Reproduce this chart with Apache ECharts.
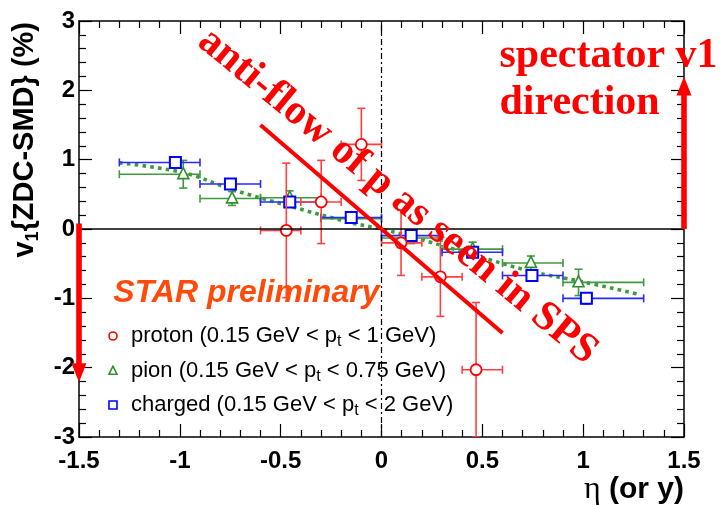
<!DOCTYPE html>
<html>
<head>
<meta charset="utf-8">
<script src="https://cdn.jsdelivr.net/npm/echarts@6/dist/echarts.min.js"></script>
<style>
  html, body { margin: 0; padding: 0; background: #fff; }
  #chart { width: 722px; height: 506px; }
</style>
</head>
<body>
<div id="chart"></div>
<script>
// Directed flow v1{ZDC-SMD} versus pseudorapidity / rapidity

// axis ranges and tick spacing
const xRange = [-1.5, 1.5];
const yRange = [-3, 3];
const xStep = 0.5;
const yStep = 1;

// proton (0.15 GeV < pt < 1 GeV)
const protonEta = [-0.472, -0.299, -0.10, 0.097, 0.292, 0.469];
const protonV1  = [-0.02, 0.39, 1.22, -0.20, -0.69, -2.03];
const protonLo  = [-0.60, -0.40, -0.20, 0.00, 0.20, 0.40];
const protonHi  = [-0.40, -0.20, 0.00, 0.20, 0.40, 0.60];
const protonErr = [0.97, 0.60, 0.52, 0.47, 0.57, 0.97];

// pion (0.15 GeV < pt < 0.75 GeV)
const pionEta = [-0.983, -0.741, -0.455, -0.15, 0.147, 0.452, 0.741, 0.977];
const pionV1  = [0.79, 0.44, 0.45, 0.15, -0.13, -0.29, -0.49, -0.77];
const pionLo  = [-1.30, -0.90, -0.60, -0.30, 0.00, 0.30, 0.60, 0.90];
const pionHi  = [-0.90, -0.60, -0.30, 0.00, 0.30, 0.60, 0.90, 1.30];
const pionErr = [0.20, 0.10, 0.10, 0.06, 0.08, 0.10, 0.10, 0.19];

// charged hadrons (0.15 GeV < pt < 2 GeV)
const chargedEta = [-1.022, -0.749, -0.455, -0.15, 0.147, 0.452, 0.746, 1.016];
const chargedV1  = [0.96, 0.65, 0.39, 0.165, -0.095, -0.335, -0.67, -1.00];
const chargedLo  = [-1.30, -0.90, -0.60, -0.30, 0.00, 0.30, 0.60, 0.90];
const chargedHi  = [-0.90, -0.60, -0.30, 0.00, 0.30, 0.60, 0.90, 1.30];
const chargedErr = [0.08, 0.06, 0.06, 0.06, 0.06, 0.06, 0.08, 0.08];

// smooth fit through the pion / charged points
const fitEta = [-1.30, -0.98, -0.74, -0.455, -0.15, 0.00, 0.147, 0.452, 0.741, 0.98, 1.28];
const fitV1  = [0.955, 0.81, 0.57, 0.33, 0.09, 0.00, -0.11, -0.37, -0.61, -0.75, -0.945];

// "anti-flow" guide line
const antiFlowEta = [-0.60, 0.60];
const antiFlowV1  = [1.50, -1.50];

// spectator direction arrows: [eta, from v1, to v1]
const arrowUp   = [1.5, 0.0, 2.2];
const arrowDown = [-1.5, 0.08, -2.21];

// legend entries
const legendNames = ['proton', 'pion', 'charged'];
const legendRanges = ['1', '0.75', '2'];

const FONT = '"Liberation Sans", Arial, sans-serif';
const SERIF = '"Liberation Serif", "Times New Roman", serif';
const RED = '#ff0000';
const GREEN = '#2f8f2f';
const BLUE = '#0000ff';

const zip = (...cols) => cols[0].map((_, i) => cols.map(c => c[i]));

function markerShape(kind, cx, cy, s, color, lw) {
  const style = { fill: '#fff', stroke: color, lineWidth: lw };
  if (kind === 'circle') {
    return { type: 'circle', shape: { cx, cy, r: s / 2 }, style };
  }
  if (kind === 'triangle') {
    return { type: 'polygon', shape: { points: [[cx, cy - s * 0.6], [cx - s / 2, cy + s * 0.4], [cx + s / 2, cy + s * 0.4]] }, style };
  }
  return { type: 'rect', shape: { x: cx - s / 2, y: cy - s / 2, width: s, height: s }, style };
}

function errorBarRenderer(kind, color, barColor, size, lw) {
  return function (params, api) {
    const x = api.value(0), y = api.value(1), lo = api.value(2), hi = api.value(3), e = api.value(4);
    const c = api.coord([x, y]);
    const pl = api.coord([lo, y]);
    const ph = api.coord([hi, y]);
    const pt = api.coord([x, y + e]);
    const pb = api.coord([x, y - e]);
    const cap = 4;
    const ls = { stroke: barColor, lineWidth: 1.6 };
    const line = (x1, y1, x2, y2) => ({ type: 'line', shape: { x1, y1, x2, y2 }, style: ls });
    return {
      type: 'group',
      children: [
        line(pl[0], c[1], ph[0], c[1]),
        line(pl[0], c[1] - cap, pl[0], c[1] + cap),
        line(ph[0], c[1] - cap, ph[0], c[1] + cap),
        line(c[0], pt[1], c[0], pb[1]),
        line(c[0] - cap, pt[1], c[0] + cap, pt[1]),
        line(c[0] - cap, pb[1], c[0] + cap, pb[1]),
        markerShape(kind, c[0], c[1], size, color, lw)
      ]
    };
  };
}

const axisCommon = {
  type: 'value',
  axisLine: { show: true, onZero: false, lineStyle: { color: '#000', width: 1.5 } },
  axisTick: { show: true, inside: true, length: 13, lineStyle: { color: '#000', width: 1.2 } },
  minorTick: { show: true, splitNumber: 5, length: 7, lineStyle: { color: '#000', width: 1.2 } },
  splitLine: { show: false },
  minorSplitLine: { show: false }
};
const labelStyle = { color: '#000', fontFamily: FONT, fontWeight: 'bold', fontSize: 24 };

const chart = echarts.init(document.getElementById('chart'), null, { renderer: 'canvas' });

chart.setOption({
  backgroundColor: '#fff',
  animation: false,
  grid: { left: 79, right: 38, top: 21, bottom: 69 },
  xAxis: [
    Object.assign({}, axisCommon, {
      position: 'bottom', min: xRange[0], max: xRange[1], interval: xStep,
      axisLabel: Object.assign({ margin: 12 }, labelStyle)
    }),
    Object.assign({}, axisCommon, {
      position: 'top', min: xRange[0], max: xRange[1], interval: xStep,
      axisLabel: { show: false }
    })
  ],
  yAxis: [
    Object.assign({}, axisCommon, {
      position: 'left', min: yRange[0], max: yRange[1], interval: yStep,
      axisLabel: Object.assign({ margin: 4 }, labelStyle)
    }),
    Object.assign({}, axisCommon, {
      position: 'right', min: yRange[0], max: yRange[1], interval: yStep,
      axisLabel: { show: false }
    })
  ],
  series: [
    {
      name: 'fit',
      type: 'line',
      data: zip(fitEta, fitV1),
      smooth: 0.4,
      symbol: 'none',
      z: 2,
      lineStyle: { color: '#3c9b3c', width: 3.6, type: [3.6, 4.2], cap: 'butt' },
      markLine: {
        silent: true,
        symbol: 'none',
        label: { show: false },
        data: [
          { yAxis: 0, lineStyle: { color: '#000', width: 1.5, type: 'solid' } },
          { xAxis: 0, lineStyle: { color: '#000', width: 1.2, type: [6, 3, 2, 3] } }
        ]
      }
    },
    {
      name: 'pion',
      type: 'custom',
      clip: true,
      z: 3,
      renderItem: errorBarRenderer('triangle', GREEN, '#3f9a3f', 11, 1.6),
      data: zip(pionEta, pionV1, pionLo, pionHi, pionErr)
    },
    {
      name: 'charged',
      type: 'custom',
      clip: true,
      z: 4,
      renderItem: errorBarRenderer('square', BLUE, '#2a2aff', 11, 2),
      data: zip(chargedEta, chargedV1, chargedLo, chargedHi, chargedErr)
    },
    {
      name: 'proton',
      type: 'custom',
      clip: true,
      z: 4,
      renderItem: errorBarRenderer('circle', RED, '#ff4040', 11, 1.8),
      data: zip(protonEta, protonV1, protonLo, protonHi, protonErr)
    },
    {
      name: 'anti-flow',
      type: 'line',
      data: zip(antiFlowEta, antiFlowV1),
      symbol: 'none',
      z: 6,
      lineStyle: { color: RED, width: 4 }
    }
  ]
});

// annotations placed in data coordinates
const px = (x, y) => chart.convertToPixel({ gridIndex: 0 }, [x, y]);

function arrow(spec) {
  const [eta, from, to] = spec;
  const a = px(eta, from), b = px(eta, to);
  const dir = Math.sign(b[1] - a[1]);
  const headLen = 19, headHalf = 7.5, shaftHalf = 2.8;
  const base = b[1] - dir * headLen;
  return {
    type: 'polygon',
    z: 100,
    shape: {
      points: [
        [a[0] - shaftHalf, a[1]], [a[0] + shaftHalf, a[1]],
        [a[0] + shaftHalf, base], [a[0] + headHalf, base],
        [b[0], b[1]],
        [a[0] - headHalf, base], [a[0] - shaftHalf, base]
      ]
    },
    style: { fill: RED }
  };
}

const pText = px(0.08, 0.47);
const pSpect = px(0.585, 2.49);
const pDir = px(0.585, 1.81);
const pStar = px(-1.33, -0.92);

const legendY = [336, 371, 405];
const legendKinds = ['circle', 'triangle', 'square'];
const legendColors = [RED, GREEN, BLUE];

const legendItems = [];
legendNames.forEach((name, i) => {
  legendItems.push(Object.assign({ z: 100 }, markerShape(legendKinds[i], 113, legendY[i], 8, legendColors[i], 1.6)));
  legendItems.push({
    type: 'text', z: 100, x: 131, y: legendY[i],
    style: {
      text: name + ' (0.15 GeV < p{sub|t} < ' + legendRanges[i] + ' GeV)',
      fontFamily: FONT, fontSize: 22, fill: '#000',
      verticalAlign: 'middle', align: 'left',
      rich: { sub: { fontFamily: FONT, fontSize: 16, fill: '#000', padding: [12, 0, 0, 0] } }
    }
  });
});

chart.setOption({
  graphic: [
    arrow(arrowUp),
    arrow(arrowDown),
    {
      type: 'text', z: 110, x: pText[0], y: pText[1], rotation: -39.5 * Math.PI / 180,
      style: {
        text: 'anti-flow of p as seen in SPS',
        fontFamily: SERIF, fontWeight: 'bold', fontSize: 42, fill: RED,
        align: 'center', verticalAlign: 'middle'
      }
    },
    {
      type: 'text', z: 110, x: pSpect[0], y: pSpect[1],
      style: { text: 'spectator v1', fontFamily: SERIF, fontWeight: 'bold', fontSize: 42, fill: RED, align: 'left', verticalAlign: 'middle' }
    },
    {
      type: 'text', z: 110, x: pDir[0], y: pDir[1],
      style: { text: 'direction', fontFamily: SERIF, fontWeight: 'bold', fontSize: 42, fill: RED, align: 'left', verticalAlign: 'middle' }
    },
    {
      type: 'text', z: 110, x: pStar[0], y: pStar[1],
      style: { text: 'STAR preliminary', fontFamily: FONT, fontWeight: 'bold', fontStyle: 'italic', fontSize: 32, fill: '#ff4a0a', align: 'left', verticalAlign: 'middle' }
    },
    {
      type: 'text', z: 100, x: 25, y: 22, rotation: Math.PI / 2,
      style: {
        text: 'v{sub|1}{ZDC-SMD} (%)',
        fontFamily: FONT, fontWeight: 'bold', fontSize: 29, fill: '#000',
        align: 'right', verticalAlign: 'middle',
        rich: { sub: { fontFamily: FONT, fontWeight: 'bold', fontSize: 18, fill: '#000', padding: [16, 0, 0, 0] } }
      }
    },
    {
      type: 'text', z: 100, x: 684, y: 490,
      style: {
        text: '{eta|η} (or y)',
        fontFamily: FONT, fontWeight: 'bold', fontSize: 30, fill: '#000',
        align: 'right', verticalAlign: 'middle',
        rich: { eta: { fontFamily: SERIF, fontWeight: 'normal', fontSize: 32, fill: '#000' } }
      }
    }
  ].concat(legendItems)
});
</script>
</body>
</html>
